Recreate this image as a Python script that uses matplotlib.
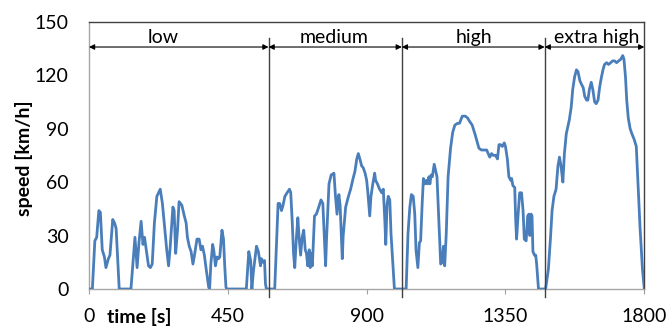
import matplotlib
matplotlib.use("Agg")
import matplotlib.pyplot as plt

# WLTC class 3 speed trace: time [s] and vehicle speed [km/h] at each vertex
time_s = [
    0, 11, 19, 25, 32, 37, 43, 50, 55, 63, 68, 77, 83, 88, 98, 136, 149, 156, 162, 169,
    175, 180, 184, 193, 199, 205, 212, 220, 231, 238, 245, 252, 258, 263, 272, 276, 281, 287, 292, 301,
    309, 315, 319, 325, 331, 337, 342, 350, 357, 363, 368, 374, 380, 388, 391, 395, 401, 405, 410, 415,
    420, 424, 431, 436, 440, 444, 447, 510, 518, 524, 528, 533, 543, 549, 556, 559, 564, 569, 572, 575,
    602, 613, 618, 624, 629, 635, 642, 650, 654, 659, 663, 667, 672, 677, 681, 686, 691, 696, 701, 705,
    709, 714, 717, 721, 724, 731, 737, 743, 752, 758, 767, 770, 778, 785, 794, 799, 804, 810, 814, 821,
    824, 832, 841, 848, 856, 862, 868, 873, 878, 884, 889, 895, 900, 904, 910, 914, 920, 926, 929, 935,
    942, 949, 954, 959, 962, 966, 970, 975, 979, 986, 990, 1028,
    1034, 1040, 1045, 1051, 1056, 1060, 1066, 1071, 1075, 1080, 1084, 1089, 1094, 1097, 1102, 1105, 1109, 1113, 1119, 1123,
    1128, 1131, 1136, 1140, 1145, 1149, 1153, 1158, 1164, 1172, 1179, 1186, 1195, 1201, 1210, 1220, 1227, 1234, 1242, 1251,
    1259, 1264, 1272, 1277, 1282, 1289, 1294, 1299, 1305, 1310, 1318, 1324, 1329, 1334, 1340, 1346, 1350, 1356, 1361, 1367,
    1370, 1374, 1380, 1383, 1386, 1391, 1396, 1402, 1407, 1411, 1417, 1422, 1426, 1429, 1433, 1436, 1439, 1444, 1448, 1451,
    1457, 1480,
    1489, 1496, 1501, 1507, 1514, 1520, 1525, 1530, 1536, 1541, 1547, 1552, 1557, 1563, 1568, 1574, 1580, 1585, 1591, 1596,
    1602, 1607, 1613, 1617, 1622, 1628, 1633, 1639, 1644, 1650, 1655, 1660, 1666, 1671, 1678, 1684, 1691, 1697, 1704, 1710,
    1717, 1724, 1730, 1734, 1739, 1743, 1748, 1754, 1760, 1767, 1774, 1779, 1786, 1794, 1800,
]
speed_kmh = [
    0, 0, 27, 29, 44, 43, 22, 18, 12, 17, 19, 39, 37, 34, 0, 0, 29, 12, 26, 38,
    25, 29, 24, 13, 12, 14, 37, 52, 56, 48, 35, 22, 13, 23, 46, 44, 20, 33, 49, 47,
    41, 37, 29, 24, 21, 14, 19, 28, 28, 22, 24, 19, 11, 1, 0, 14, 25, 21, 13, 18,
    17, 18, 33, 28, 13, 1, 0, 0, 21, 16, 0, 10, 24, 21, 13, 17, 15, 16, 3, 0,
    0, 48, 48, 44, 47, 52, 54, 56, 54, 37, 20, 12, 28, 40, 29, 19, 29, 33, 22, 20,
    13, 22, 12, 20, 13, 41, 42, 45, 50, 48, 13, 28, 59, 64, 65, 52, 42, 53, 47, 17,
    30, 46, 52, 56, 62, 66, 73, 76, 73, 69, 68, 65, 61, 54, 41, 52, 59, 65, 61, 59,
    56, 54, 56, 38, 25, 47, 52, 50, 31, 11, 0, 0,
    31, 46, 53, 52, 42, 22, 12, 26, 27, 48, 62, 59, 61, 59, 63, 59, 64, 63, 70, 67,
    63, 51, 31, 14, 15, 24, 13, 31, 63, 79, 88, 92, 93, 93, 97, 97, 96, 94, 92, 87,
    82, 79, 78, 78, 78, 78, 76, 74, 76, 75, 75, 73, 81, 81, 80, 82, 80, 73, 63, 61,
    62, 58, 57, 39, 28, 42, 54, 54, 44, 28, 27, 41, 42, 30, 42, 41, 21, 19, 19, 14,
    0, 0,
    11, 29, 44, 52, 56, 69, 74, 69, 60, 76, 87, 91, 95, 102, 112, 119, 123, 122, 117, 115,
    113, 108, 106, 106, 112, 116, 112, 105, 104, 106, 113, 118, 123, 126, 127, 126, 127, 128, 128, 127,
    128, 129, 131, 129, 119, 106, 96, 90, 87, 84, 80, 61, 35, 11, 0,
]

# Cycle phases and their boundaries [s]
phase_names = ["low", "medium", "high", "extra high"]
phase_bounds = [0, 582, 1014, 1477, 1800]
phase_label_x = [240, 793, 1248, 1645]

x_ticks = [0, 450, 900, 1350, 1800]
y_ticks = [0, 30, 60, 90, 120, 150]

plt.rcParams["font.family"] = ["Lato", "DejaVu Sans"]

fig = plt.figure(figsize=(6.69, 3.27), dpi=100)
ax = fig.add_axes([0.1330, 0.1162, 0.8301, 0.8174])

ax.plot(time_s, speed_kmh, color="#4a7ebb", lw=2.0, solid_joinstyle="round", zorder=3)

ax.set_xlim(0, 1800)
ax.set_ylim(0, 150)
ax.set_xticks(x_ticks)
ax.set_yticks(y_ticks)
ax.tick_params(axis="x", length=3.6, width=0.8, color="#a0a0a0", pad=10.0,
               labelsize=14, labelcolor="black")
ax.tick_params(axis="y", length=0, pad=14.5, labelsize=14, labelcolor="black")

for side in ("top", "right"):
    ax.spines[side].set_color("#404040")
    ax.spines[side].set_linewidth(1.0)
for side in ("left", "bottom"):
    ax.spines[side].set_color("#a6a6a6")
    ax.spines[side].set_linewidth(1.0)

# Phase separators and double-headed arrows
for b in phase_bounds[1:-1]:
    ax.plot([b, b], [141, -4.5], color="#404040", lw=1.0, clip_on=False, zorder=4)

for i, name in enumerate(phase_names):
    ax.annotate("", xy=(phase_bounds[i + 1], 135.8), xytext=(phase_bounds[i], 135.8),
                arrowprops=dict(arrowstyle="<|-|>", color="black", lw=0.8,
                                mutation_scale=8, shrinkA=0, shrinkB=0),
                zorder=5)
    ax.text(phase_label_x[i], 138.3, name, ha="center", va="baseline", fontsize=14)

fig.text(139.5 / 669, 1 - 323 / 327, "time [s]", ha="center", va="baseline",
         fontsize=14, fontweight="bold")
fig.text(24.5 / 669, 1 - 158 / 327, "speed [km/h]", ha="center", va="center",
         rotation=90, fontsize=14, fontweight="bold")

fig.savefig("out.png", dpi=100)
